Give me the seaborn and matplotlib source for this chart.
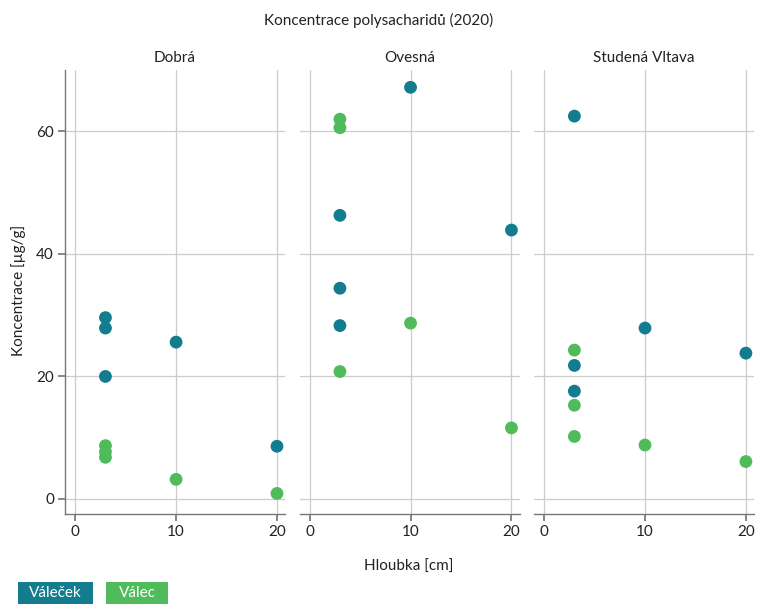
import matplotlib
matplotlib.use("Agg")
import matplotlib.pyplot as plt
from matplotlib.patches import Rectangle
import seaborn as sns
import pandas as pd

# ---- data ----
sites = ["Dobrá", "Ovesná", "Studená Vltava"]
series = ["Váleček", "Válec"]
colors = ["#137C8F", "#4FBB5B"]

site_col = (["Dobrá"] * 10) + (["Ovesná"] * 10) + (["Studená Vltava"] * 10)
depth_col = [3, 3, 3, 10, 20, 3, 3, 3, 10, 20,
             3, 3, 3, 10, 20, 3, 3, 3, 10, 20,
             3, 3, 3, 10, 20, 3, 3, 3, 10, 20]
type_col = (["Váleček"] * 5 + ["Válec"] * 5) * 3
value_col = [29.6, 27.9, 20.0, 25.6, 8.6, 8.7, 7.7, 6.8, 3.2, 0.9,
             46.3, 34.4, 28.3, 67.2, 43.9, 62.0, 60.6, 20.8, 28.7, 11.6,
             62.5, 21.8, 17.6, 27.9, 23.8, 24.3, 15.3, 10.2, 8.8, 6.1]

x_ticks = [0, 10, 20]
y_ticks = [0, 20, 40, 60]

df = pd.DataFrame({"site": site_col, "depth": depth_col,
                   "type": type_col, "value": value_col})

sns.set_theme(style="white")
plt.rcParams["font.family"] = ["Lato", "DejaVu Sans"]

g = sns.relplot(data=df, x="depth", y="value", hue="type", col="site",
                col_order=sites, hue_order=series, palette=colors,
                kind="scatter", s=85, linewidth=0, legend=False,
                height=6.05, aspect=7.57 / 3 / 6.05)
fig = g.figure
fig.set_size_inches(7.57, 6.05)
fig.subplots_adjust(left=0.086, right=0.996, top=0.884, bottom=0.150, wspace=0.066)

for i, (ax, site) in enumerate(zip(g.axes.flat, sites)):
    ax.set_xlim(-1, 20.8)
    ax.set_ylim(-2.5, 70)
    ax.set_xticks(x_ticks)
    ax.set_yticks(y_ticks)
    ax.grid(True, color="#cccccc", linewidth=0.9)
    ax.set_axisbelow(True)
    ax.set_title(site, fontsize=11, color="#222222", pad=6)
    ax.set_xlabel("")
    ax.set_ylabel("")
    for s in ["top", "right"]:
        ax.spines[s].set_visible(False)
    ax.spines["bottom"].set_color("#777777")
    ax.spines["bottom"].set_linewidth(1.0)
    ax.tick_params(axis="x", bottom=True, length=5, color="#777777",
                   labelsize=11, labelcolor="#222222", pad=3)
    if i == 0:
        ax.spines["left"].set_color("#777777")
        ax.spines["left"].set_linewidth(1.0)
        ax.tick_params(axis="y", left=True, length=5, color="#777777",
                       labelsize=11, labelcolor="#222222", pad=3)
    else:
        ax.spines["left"].set_visible(False)
        ax.tick_params(axis="y", left=False, labelleft=False)

fig.text(0.5, 0.966, "Koncentrace polysacharidů (2020)", ha="center",
         va="center", fontsize=11, color="#222222")
fig.text(0.54, 0.063, "Hloubka [cm]", ha="center", va="center",
         fontsize=11, color="#222222")
fig.text(0.024, 0.52, "Koncentrace [µg/g]", ha="center", va="center",
         rotation=90, fontsize=11, color="#222222")

W, H = 757.0, 605.0
boxes = [(18, 93), (106, 168)]
for (x0, x1), lab, col in zip(boxes, series, colors):
    fig.patches.append(Rectangle((x0 / W, 1 / H), (x1 - x0) / W, 22 / H,
                                 transform=fig.transFigure, fc=col, ec="none"))
    fig.text((x0 + x1) / 2 / W, 12 / H, lab, ha="center", va="center",
             fontsize=11, color="white")

fig.savefig("out.png", dpi=100)
